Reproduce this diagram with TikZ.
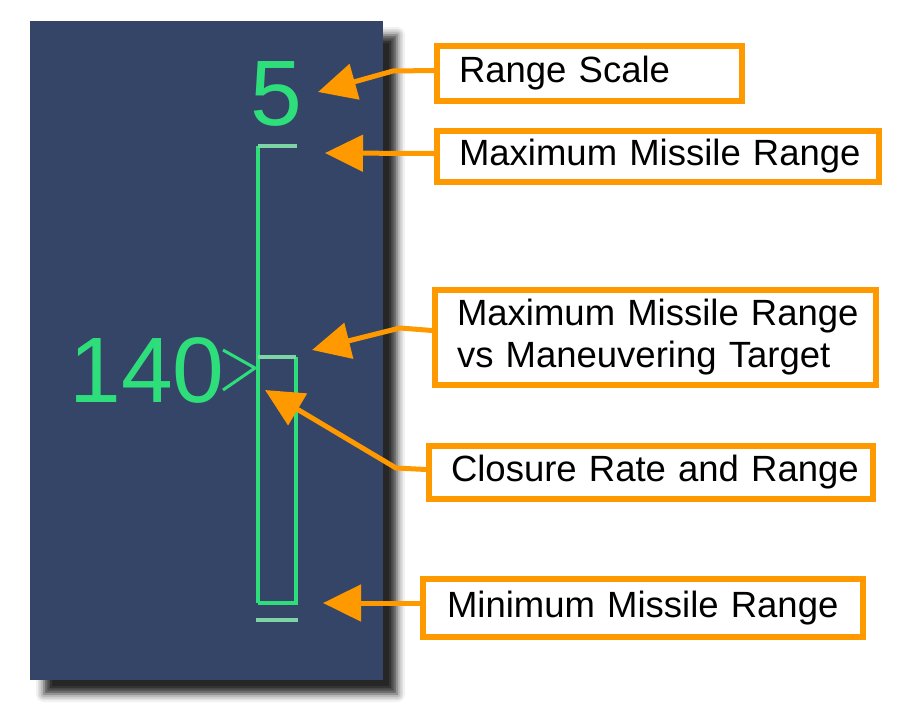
\documentclass[tikz,border=0pt]{standalone}
\usepackage{fontspec}
\setmainfont{Liberation Sans}
\newfontfamily\hudfont{Liberation Sans}
\usetikzlibrary{arrows.meta,shadows.blur}
\definecolor{panelblue}{RGB}{52,69,104}
\definecolor{hudgreen}{RGB}{46,222,122}
\definecolor{hudpale}{RGB}{125,212,165}
\definecolor{callout}{RGB}{255,153,0}
\newcommand{\padl}{\hspace*{22pt}}
\tikzset{
  calloutbox/.style={draw=callout, line width=6pt, fill=white, rectangle,
    inner xsep=0pt, inner ysep=0pt, align=left,
    font=\fontsize{36.5}{42}\selectfont},
  calloutarrow/.style={draw=callout, line width=5pt, line join=round,
    -{Triangle[length=38pt,width=36pt]}},
  hudline/.style={draw=hudgreen, line width=4pt},
  hudbar/.style={draw=hudpale, line width=4pt},
  hudtext/.style={text=hudgreen, inner sep=0pt, font=\hudfont\fontsize{93}{93}\selectfont}
}
\begin{document}
\begin{tikzpicture}[x=1pt,y=-1pt]
\useasboundingbox (0,0) rectangle (904,712);
% panel with shadow
\fill[panelblue, blur shadow={shadow xshift=14pt, shadow yshift=-14pt, shadow blur radius=8pt, shadow opacity=85}] (30,21) rectangle (383,680);

% HUD symbology
\node[hudtext] (scale) at (276,94) {5};
\node[hudtext] (rate) at (147,370) {140};
\coordinate (caretA) at (223,350);
\coordinate (caretB) at (255,368);
\coordinate (caretC) at (223,390);
\draw[hudline, line width=3pt] (caretA) -- (caretB) -- (caretC);

\coordinate (rmaxL) at (258,146);
\coordinate (rmaxR) at (297,146);
\coordinate (rminL) at (256,620);
\coordinate (rminR) at (298,620);
\coordinate (rtrL) at (258,357);
\coordinate (rtrR) at (296,357);
\coordinate (rbotL) at (258,603);
\coordinate (rbotR) at (296,603);
\draw[hudline] (rmaxL) -- (rbotL);
\draw[hudline] (rtrR) -- (rbotR) -- (rbotL);
\draw[hudbar] (rtrL) -- (rtrR);
\draw[hudbar] (rmaxL) -- (rmaxR);
\draw[hudbar] (rminL) -- (rminR);

% callout boxes
\node[calloutbox, minimum width=305pt, minimum height=55pt, text width=305pt] (b1) at (589.5,73.5) {\padl Range Scale};
\node[calloutbox, minimum width=442pt, minimum height=51pt, text width=442pt] (b2) at (658,156.5) {\padl Maximum Missile Range};
\node[calloutbox, minimum width=441pt, minimum height=95pt, text width=441pt] (b3) at (655.5,337.5) {\padl Maximum Missile Range\\\padl vs Maneuvering Target};
\node[calloutbox, minimum width=444pt, minimum height=53pt, text width=444pt] (b4) at (651,472.5) {\padl Closure Rate and Range};
\node[calloutbox, minimum width=440pt, minimum height=58pt, text width=440pt] (b5) at (643,608) {\hspace*{24pt}Minimum Missile Range};

% arrow bends and tips
\coordinate (k1) at (393,71);
\coordinate (t1) at (318,92);
\coordinate (t2) at (325,153);
\coordinate (k3) at (400,328);
\coordinate (t3) at (312,350);
\coordinate (k4) at (396,468);
\coordinate (t4) at (265,390);
\coordinate (t5) at (323,603);

\draw[calloutarrow] ([yshift=3pt]b1.west) -- (k1) -- (t1);
\draw[calloutarrow] ([yshift=3pt]b2.west) -- (t2);
\draw[calloutarrow] ([yshift=7pt]b3.west) -- (k3) -- (t3);
\draw[calloutarrow] ([yshift=3pt]b4.west) -- (k4) -- (t4);
\draw[calloutarrow] ([yshift=5pt]b5.west) -- (t5);
\end{tikzpicture}
\end{document}
